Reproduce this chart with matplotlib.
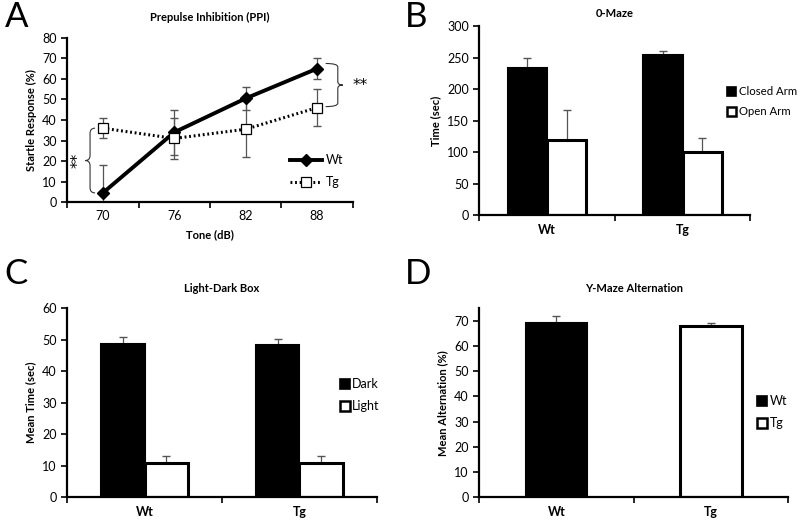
import matplotlib
matplotlib.use('Agg')
import numpy as np
import matplotlib.pyplot as plt
from matplotlib.path import Path
from matplotlib.patches import PathPatch, Patch

plt.rcParams['font.family'] = ['Lato', 'DejaVu Sans']

# --- data ---
tones = ['70', '76', '82', '88']
ppi_wt = [4.5, 34, 50.5, 65]
ppi_wt_err = [13.5, 11, 5.5, 5]
ppi_tg = [36, 31, 35.5, 46]
ppi_tg_err = [5, 10, 13.5, 9]

groups = ['Wt', 'Tg']
maze_closed = [234, 255]
maze_closed_err = [16, 6]
maze_open = [119, 100]
maze_open_err = [48, 23]

ld_dark = [48.5, 48.2]
ld_dark_err = [2.3, 2.0]
ld_light = [11, 11]
ld_light_err = [2, 2]

ymaze = [69, 68]
ymaze_err = [3, 1]

TICK = 9
LAB = 8
LEG = 9
LW_SPINE = 1.6
ECOL = '#555555'


def style(ax, ymax, ystep):
    for s in ['top', 'right']:
        ax.spines[s].set_visible(False)
    for s in ['left', 'bottom']:
        ax.spines[s].set_linewidth(LW_SPINE)
    ax.set_ylim(0, ymax)
    ax.set_yticks(np.arange(0, ymax + 0.1, ystep))
    ax.tick_params(axis='y', direction='out', length=4, width=1.2, labelsize=TICK)
    ax.tick_params(axis='x', which='major', length=0, labelsize=TICK, pad=6)
    ax.tick_params(axis='x', which='minor', direction='out', length=4, width=1.2)


def brace(ax, x_tip, x_spine, x_point, y_top, y_bot):
    ymid = (y_top + y_bot) / 2
    r = (y_top - y_bot) * 0.08
    verts = [(x_tip, y_top), (x_spine, y_top), (x_spine, y_top - r),
             (x_spine, ymid + r), (x_spine, ymid), (x_point, ymid),
             (x_spine, ymid), (x_spine, ymid - r),
             (x_spine, y_bot + r), (x_spine, y_bot), (x_tip, y_bot)]
    codes = [Path.MOVETO, Path.CURVE3, Path.CURVE3, Path.LINETO,
             Path.CURVE3, Path.CURVE3, Path.CURVE3, Path.CURVE3,
             Path.LINETO, Path.CURVE3, Path.CURVE3]
    ax.add_patch(PathPatch(Path(verts, codes), fill=False, lw=0.8,
                           color='#333333', clip_on=False))


fig = plt.figure(figsize=(8, 5.25), dpi=100)

# ---------- A ----------
ax = fig.add_axes([0.084, 0.615, 0.357, 0.313])
x = np.arange(len(tones))
ax.errorbar(x, ppi_wt, yerr=ppi_wt_err, fmt='none', ecolor=ECOL,
            elinewidth=0.9, capsize=3)
ax.errorbar(x, ppi_tg, yerr=ppi_tg_err, fmt='none', ecolor=ECOL,
            elinewidth=0.9, capsize=3)
ax.plot(x, ppi_wt, color='black', lw=2.8, marker='D', ms=6, label='Wt', zorder=3)
ax.plot(x, ppi_tg, color='black', lw=2.2, ls=(0, (0.6, 0.9)), marker='s', ms=7.5,
        mfc='white', mec='black', mew=0.9, label='Tg', zorder=3)
style(ax, 80, 10)
ax.set_xlim(-0.5, len(tones) - 0.5)
ax.set_xticks(x)
ax.set_xticklabels(tones)
ax.set_xticks(np.arange(-0.5, len(tones)), minor=True)
ax.set_xlabel('Tone (dB)', fontsize=LAB, fontweight='bold', labelpad=5)
ax.set_ylabel('Startle Response (%)', fontsize=LAB, fontweight='bold')
ax.set_title('Prepulse Inhibition (PPI)', fontsize=LAB, fontweight='bold', pad=12)
ax.legend(loc='center left', bbox_to_anchor=(0.78, 0.19), frameon=False,
          fontsize=LEG, handlelength=2.6, labelspacing=0.8, handletextpad=0.3,
          borderpad=0, borderaxespad=0)
brace(ax, -0.11, -0.18, -0.25, ppi_tg[0], ppi_wt[0])
ax.text(-0.35, (ppi_tg[0] + ppi_wt[0]) / 2, '**', rotation=90, fontsize=11,
        ha='center', va='center', family='DejaVu Sans')
brace(ax, 3.12, 3.29, 3.36, ppi_wt[3] + 2.5, ppi_tg[3] + 0.5)
ax.text(3.6, (ppi_wt[3] + ppi_tg[3]) / 2 + 1.5, '**', fontsize=11,
        ha='center', va='center', family='DejaVu Sans')


def bar_set(ax, xs, vals, errs, width, face, lw, label=None):
    # error bars sit behind the bars, so only the upper half shows
    ax.errorbar(xs, vals, yerr=errs, fmt='none', ecolor=ECOL, elinewidth=0.9,
                capsize=3, zorder=1)
    ax.bar(xs, vals, width, color=face, edgecolor='black', lw=lw,
           label=label, zorder=2)


def bars(ax, a, a_err, b, b_err, width, labels):
    x = np.arange(len(groups))
    bar_set(ax, x - width / 2, a, a_err, width, 'black', 1.5, labels[0])
    bar_set(ax, x + width / 2, b, b_err, width, 'white', 2.2, labels[1])
    ax.set_xlim(-0.5, len(groups) - 0.5)
    ax.set_xticks(x)
    ax.set_xticklabels(groups, fontweight='bold')
    ax.set_xticks(np.arange(-0.5, len(groups)), minor=True)


def bar_legend(ax, labels, anchor, size=LEG):
    handles = [Patch(facecolor='black', edgecolor='black', lw=1.2),
               Patch(facecolor='white', edgecolor='black', lw=1.8)]
    ax.legend(handles, labels, loc='center left', bbox_to_anchor=anchor,
              frameon=False, fontsize=size, handlelength=0.8, handleheight=0.8,
              handletextpad=0.2, labelspacing=0.8, borderpad=0,
              borderaxespad=0)


# ---------- B ----------
ax = fig.add_axes([0.599, 0.590, 0.339, 0.360])
bars(ax, maze_closed, maze_closed_err, maze_open, maze_open_err, 0.29,
     ['Closed Arm', 'Open Arm'])
style(ax, 300, 50)
ax.set_ylabel('Time (sec)', fontsize=LAB, fontweight='bold')
ax.set_title('0-Maze', fontsize=LAB, fontweight='bold', pad=7)
bar_legend(ax, ['Closed Arm', 'Open Arm'], (0.915, 0.6), size=8.2)

# ---------- C ----------
ax = fig.add_axes([0.084, 0.053, 0.387, 0.360])
bars(ax, ld_dark, ld_dark_err, ld_light, ld_light_err, 0.28, ['Dark', 'Light'])
style(ax, 60, 10)
ax.set_ylabel('Mean Time (sec)', fontsize=LAB, fontweight='bold')
ax.set_title('Light-Dark Box', fontsize=LAB, fontweight='bold', pad=12)
bar_legend(ax, ['Dark', 'Light'], (0.88, 0.54))

# ---------- D ----------
ax = fig.add_axes([0.599, 0.053, 0.386, 0.360])
xd = np.arange(len(groups))
bar_set(ax, xd[:1], ymaze[:1], ymaze_err[:1], 0.4, 'black', 1.5)
bar_set(ax, xd[1:], ymaze[1:], ymaze_err[1:], 0.4, 'white', 2.2)
ax.set_xlim(-0.5, len(groups) - 0.5)
ax.set_xticks(xd)
ax.set_xticklabels(groups, fontweight='bold')
ax.set_xticks(np.arange(-0.5, len(groups)), minor=True)
style(ax, 75, 10)
ax.set_ylabel('Mean Alternation (%)', fontsize=LAB, fontweight='bold')
ax.set_title('Y-Maze Alternation', fontsize=LAB, fontweight='bold', pad=12)
bar_legend(ax, groups, (0.9, 0.45))

# panel letters
for lab, (px, py) in zip('ABCD', [(0.006, 0.998), (0.506, 0.998),
                                  (0.006, 0.508), (0.506, 0.508)]):
    fig.text(px, py, lab, fontsize=25, va='top', ha='left')

fig.savefig('out.png', dpi=100)
